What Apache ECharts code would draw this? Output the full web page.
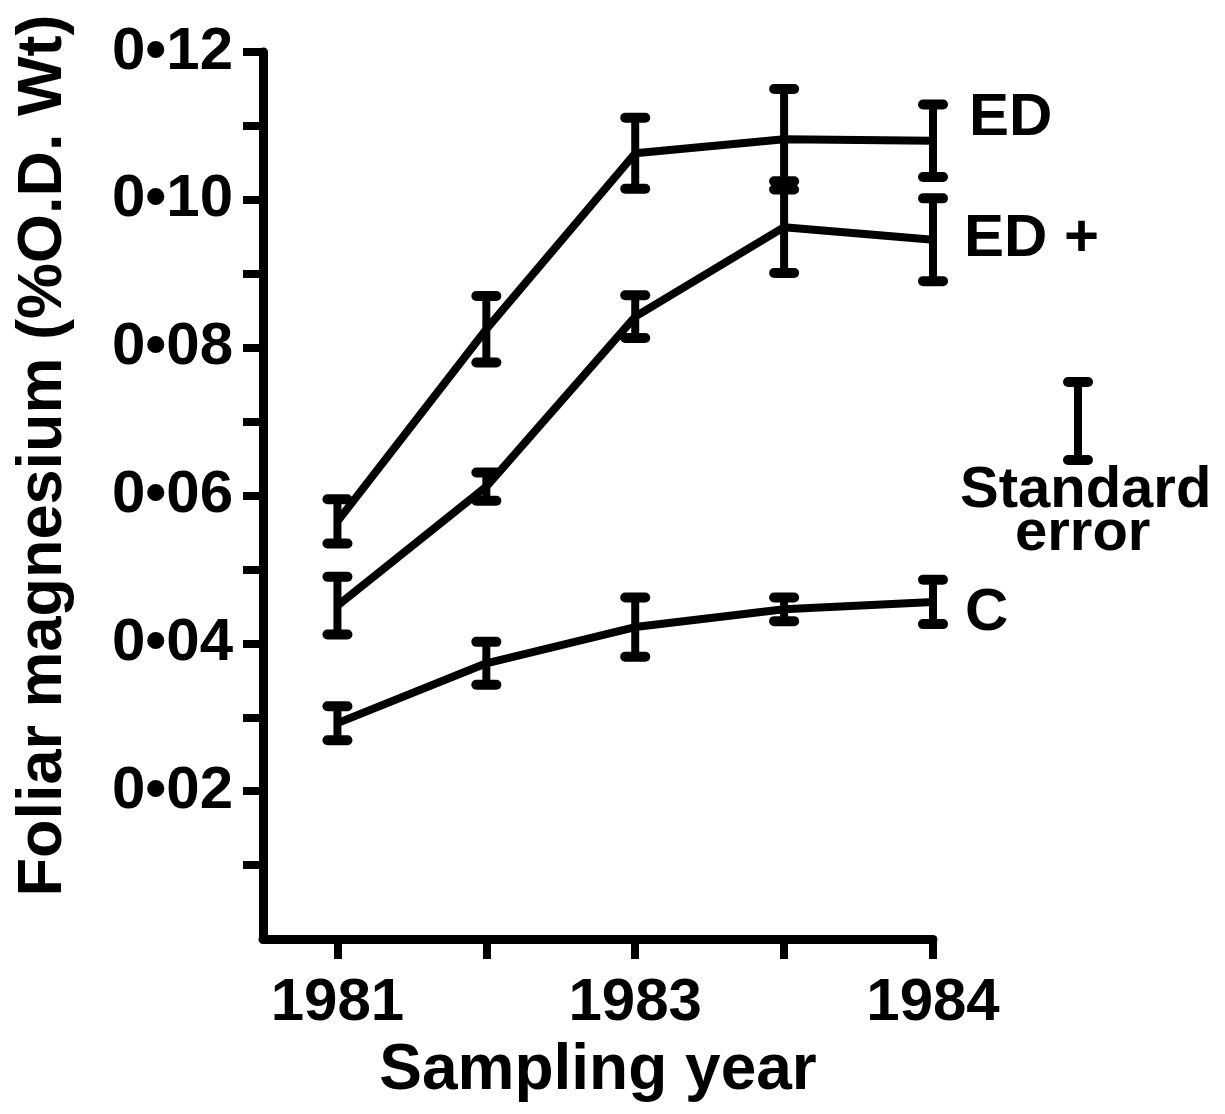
<!DOCTYPE html>
<html>
<head>
<meta charset="utf-8">
<script src="https://cdn.jsdelivr.net/npm/echarts@6/dist/echarts.min.js"></script>
<style>
	html, body { margin: 0; padding: 0; background: #fff; }
	#chart { width: 1225px; height: 1114px; }
</style>
</head>
<body>
<div id="chart"></div>
<script>
// sampling positions along the x axis and the year printed under some of them
const positions = [0, 1, 2, 3, 4]
const yearLabels = ['1981', '', '1983', '', '1984']

// y ticks (no tick at 0, it sits in the corner)
const yTicks = [0.01, 0.02, 0.03, 0.04, 0.05, 0.06, 0.07, 0.08, 0.09, 0.10, 0.11, 0.12]

// foliar Mg means and standard errors
const edMean = [0.0565, 0.0825, 0.1063, 0.1082, 0.1080]
const edSe = [0.0030, 0.0045, 0.0048, 0.0068, 0.0049]
const edPlusMean = [0.0451, 0.0612, 0.0842, 0.0963, 0.0946]
const edPlusSe = [0.0039, 0.0019, 0.0029, 0.0062, 0.0056]
const cMean = [0.0292, 0.0373, 0.0422, 0.0446, 0.0456]
const cSe = [0.0023, 0.0029, 0.0040, 0.0016, 0.0030]

const font = 'Liberation Sans, Arial, Helvetica, sans-serif'
const ink = '#000'

function lineData(means) {
	return positions.map((x, i) => [x, means[i]])
}

function barData(means, se) {
	return positions.map((x, i) => [x, means[i], se[i]])
}

function renderErrorBar(params, api) {
	const x = api.value(0)
	const m = api.value(1)
	const s = api.value(2)
	const top = api.coord([x, m + s])
	const bot = api.coord([x, m - s])
	const w = 10
	const cap = { stroke: ink, lineWidth: 10, lineCap: 'round' }
	return {
		type: 'group',
		children: [
			{ type: 'line', shape: { x1: top[0], y1: top[1], x2: bot[0], y2: bot[1] }, style: { stroke: ink, lineWidth: 8 } },
			{ type: 'line', shape: { x1: top[0] - w, y1: top[1], x2: top[0] + w, y2: top[1] }, style: cap },
			{ type: 'line', shape: { x1: bot[0] - w, y1: bot[1], x2: bot[0] + w, y2: bot[1] }, style: cap }
		]
	}
}

function lineSeries(name, label, means, offset) {
	return {
		name: name,
		type: 'line',
		data: lineData(means),
		symbol: 'none',
		lineStyle: { color: ink, width: 8 },
		z: 3,
		endLabel: {
			show: true,
			formatter: label,
			offset: offset,
			color: ink,
			fontFamily: font,
			fontWeight: 'bold',
			fontSize: 60
		}
	}
}

function errorSeries(name, means, se) {
	return {
		name: name + ' se',
		type: 'custom',
		data: barData(means, se),
		renderItem: renderErrorBar,
		z: 4
	}
}

const chart = echarts.init(document.getElementById('chart'), null, { renderer: 'canvas' })

chart.setOption({
	backgroundColor: '#fff',
	animation: false,
	grid: { left: 263, right: 292, top: 52, bottom: 175 },
	xAxis: {
		type: 'value',
		min: -0.5,
		max: 4,
		interval: 0.5,
		name: 'Sampling year',
		nameLocation: 'middle',
		nameGap: 100,
		nameTextStyle: { color: ink, fontFamily: font, fontWeight: 'bold', fontSize: 64 },
		splitLine: { show: false },
		axisLine: { onZero: false, lineStyle: { color: ink, width: 9 } },
		axisTick: { length: 20, lineStyle: { color: ink, width: 8 }, customValues: positions },
		axisLabel: {
			customValues: positions,
			margin: 34,
			color: ink,
			fontFamily: font,
			fontWeight: 'bold',
			fontSize: 60,
			formatter: v => yearLabels[Math.round(v)] || ''
		}
	},
	yAxis: {
		type: 'value',
		min: 0,
		max: 0.12,
		interval: 0.01,
		name: 'Foliar magnesium (%O.D. Wt)',
		nameLocation: 'middle',
		nameGap: 188,
		nameTextStyle: { color: ink, fontFamily: font, fontWeight: 'bold', fontSize: 63, padding: [0, 0, 0, 80] },
		splitLine: { show: false },
		axisLine: { onZero: false, lineStyle: { color: ink, width: 9 } },
		axisTick: { length: 20, lineStyle: { color: ink, width: 8 }, customValues: yTicks },
		axisLabel: {
			margin: 30,
			color: ink,
			fontFamily: font,
			fontWeight: 'bold',
			fontSize: 60,
			formatter: v => {
				const n = Math.round(v * 100)
				if (n === 0 || n % 2) return ''
				return '0•' + String(n).padStart(2, '0')
			}
		}
	},
	graphic: [
		{
			type: 'group',
			left: 1063,
			top: 377,
			children: [
				{ type: 'line', shape: { x1: 15, y1: 5, x2: 15, y2: 83 }, style: { stroke: ink, lineWidth: 8 } },
				{ type: 'line', shape: { x1: 5, y1: 5, x2: 25, y2: 5 }, style: { stroke: ink, lineWidth: 10, lineCap: 'round' } },
				{ type: 'line', shape: { x1: 5, y1: 83, x2: 25, y2: 83 }, style: { stroke: ink, lineWidth: 10, lineCap: 'round' } }
			]
		},
		{
			type: 'text',
			left: 960,
			top: 462,
			style: { text: 'Standard', fill: ink, font: 'bold 58px ' + font }
		},
		{
			type: 'text',
			left: 1015,
			top: 505,
			style: { text: 'error', fill: ink, font: 'bold 58px ' + font }
		}
	],
	series: [
		lineSeries('ED', 'ED', edMean, [28, -22]),
		lineSeries('ED+', 'ED +', edPlusMean, [23, 0]),
		lineSeries('C', 'C', cMean, [24, 12]),
		errorSeries('ED', edMean, edSe),
		errorSeries('ED+', edPlusMean, edPlusSe),
		errorSeries('C', cMean, cSe)
	]
})
</script>
</body>
</html>
